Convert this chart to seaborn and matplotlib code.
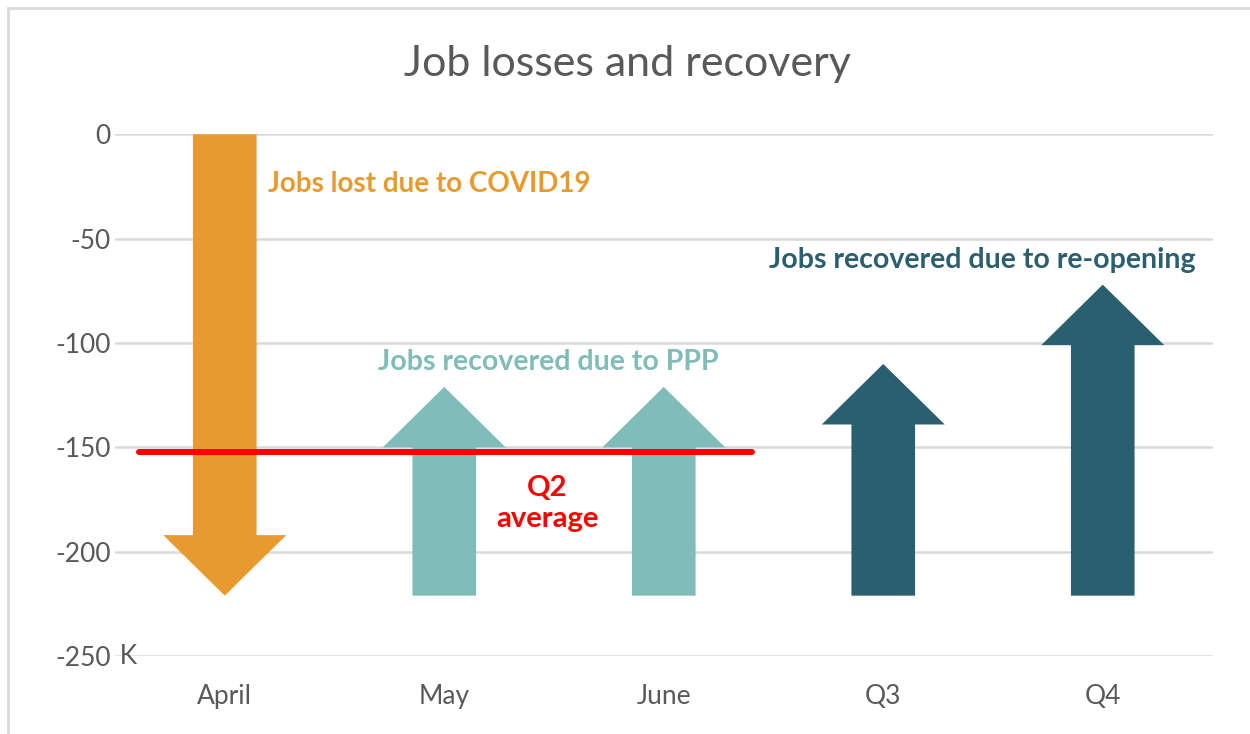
import matplotlib
matplotlib.use("Agg")
import matplotlib.pyplot as plt
from matplotlib.patches import FancyArrow, Rectangle
import seaborn as sns
import pandas as pd


categories = ["April", "May", "June", "Q3", "Q4"]
arrow_start = [0, -221, -221, -221, -221]     # K jobs
arrow_end = [-221, -121, -121, -110, -72]      # K jobs (arrow tip)
arrow_group = ["lost", "ppp", "ppp", "reopen", "reopen"]
q2_average = -152
y_ticks = [0, -50, -100, -150, -200, -250]

COLORS = {"lost": "#E99A2F", "ppp": "#7FBCBA", "reopen": "#2A5F6F"}
GRAY = "#595959"

sns.set_theme(style="whitegrid")
plt.rcParams["font.family"] = ["Lato", "DejaVu Sans"]

fig = plt.figure(figsize=(12.5, 7.34), dpi=100)
ax = fig.add_axes([0.092, 0.106, 0.878, 0.711])

# outer chart frame
fig.patches.append(Rectangle((8 / 1250, -0.05), 1.1, 1 - 8 / 734 + 0.05,
                             transform=fig.transFigure, fill=False,
                             edgecolor="#d9d9d9", linewidth=2, zorder=0))

df = pd.DataFrame({"cat": categories, "start": arrow_start,
                   "end": arrow_end, "group": arrow_group})
df["pos"] = range(len(df))

for _, r in df.iterrows():
    ax.add_patch(FancyArrow(r["pos"], r["start"], 0, r["end"] - r["start"],
                            width=0.29, head_width=0.56, head_length=29,
                            length_includes_head=True, color=COLORS[r["group"]],
                            linewidth=0, zorder=3))

# Q2 average line spans April..June
q2_idx = [categories.index("April"), categories.index("June")]
line_df = pd.DataFrame({"x": [q2_idx[0] - 0.39, q2_idx[1] + 0.4],
                        "y": [q2_average, q2_average]})
sns.lineplot(data=line_df, x="x", y="y", color="#FF0000", linewidth=4.3,
             ax=ax, zorder=4)

ax.set_xlim(-0.5, len(categories) - 0.5)
ax.set_ylim(-250, 0)
ax.set_xticks(range(len(categories)))
ax.set_xticklabels(categories)
ax.set_yticks(y_ticks)
ax.set_yticklabels([str(v) for v in y_ticks])
ax.text(-0.002, -250, " K", transform=ax.get_yaxis_transform(), ha="left",
        va="center", fontsize=19, color=GRAY)
ax.tick_params(axis="both", colors=GRAY, labelsize=19, length=0)
ax.tick_params(axis="x", pad=20)
ax.tick_params(axis="y", pad=3)
ax.grid(axis="y", color="#d9d9d9", linewidth=1.8)
ax.grid(axis="x", visible=False)
for s in ax.spines.values():
    s.set_visible(False)
ax.set_xlabel("")
ax.set_ylabel("")

fig.text(0.502, 0.913, "Job losses and recovery", ha="center", va="center",
         fontsize=31, color=GRAY)

ax.text(0.196, -24, "Jobs lost due to COVID19", ha="left", va="center",
        fontsize=20, fontweight="bold", color=COLORS["lost"])
ax.text(1.476, -109, "Jobs recovered due to PPP", ha="center", va="center",
        fontsize=20.5, fontweight="bold", color=COLORS["ppp"])
ax.text(3.45, -60, "Jobs recovered due to re-opening", ha="center",
        va="center", fontsize=20.5, fontweight="bold", color=COLORS["reopen"])
ax.text(1.47, -177, "Q2\naverage", ha="center", va="center", fontsize=21,
        fontweight="bold", color="#FF0000", linespacing=1.25)

fig.savefig("out.png", dpi=100)
